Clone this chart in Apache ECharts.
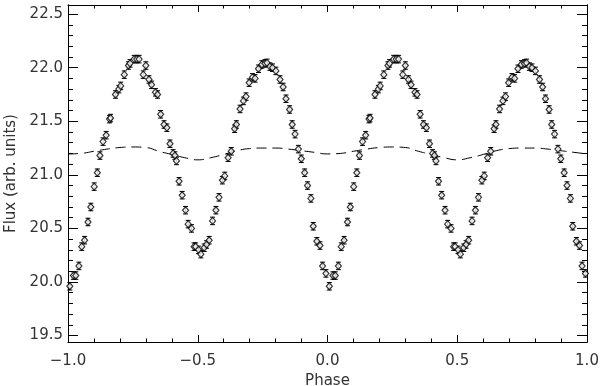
<!DOCTYPE html>
<html>
<head>
<meta charset="utf-8">
<script src="https://cdn.jsdelivr.net/npm/echarts@6/dist/echarts.min.js"></script>
<style>
  html, body { margin: 0; padding: 0; background: #fff; }
  #chart { width: 600px; height: 386px; }
</style>
</head>
<body>
<div id="chart"></div>
<script>
// measured light curve, phase 0..1 (plotted again at phase - 1)
const phase = [
  0.007, 0.021, 0.030, 0.042, 0.053, 0.064, 0.077, 0.088, 0.101, 0.113,
  0.123, 0.135, 0.147, 0.160, 0.164, 0.183, 0.196, 0.203, 0.217, 0.233,
  0.239, 0.255, 0.265, 0.274, 0.290, 0.300, 0.312, 0.322, 0.337, 0.345,
  0.357, 0.370, 0.381, 0.393, 0.405, 0.412, 0.418, 0.428, 0.440, 0.453,
  0.463, 0.476, 0.486, 0.492, 0.503, 0.512, 0.525, 0.534, 0.544, 0.557,
  0.570, 0.582, 0.595, 0.604, 0.617, 0.629, 0.642, 0.649, 0.663, 0.676,
  0.686, 0.698, 0.711, 0.721, 0.734, 0.747, 0.759, 0.767, 0.778, 0.788,
  0.801, 0.817, 0.829, 0.840, 0.854, 0.864, 0.875, 0.888, 0.899, 0.912,
  0.923, 0.936, 0.945, 0.959, 0.971, 0.981, 0.994
];
const flux = [
  19.96, 20.06, 20.06, 20.15, 20.33, 20.39, 20.56, 20.70, 20.89, 21.02,
  21.18, 21.31, 21.37, 21.52, 21.53, 21.75, 21.80, 21.83, 21.935, 22.02,
  22.04, 22.08, 22.08, 22.08, 21.935, 22.02, 21.89, 21.84, 21.77, 21.75,
  21.565, 21.47, 21.44, 21.29, 21.20, 21.18, 21.13, 20.94, 20.81, 20.67,
  20.54, 20.50, 20.33, 20.33, 20.30, 20.26, 20.32, 20.35, 20.39, 20.57,
  20.67, 20.79, 20.95, 20.99, 21.16, 21.22, 21.43, 21.47, 21.615, 21.69,
  21.73, 21.86, 21.91, 21.90, 21.99, 22.03, 22.04, 22.045, 22.01, 22.00,
  21.97, 21.89, 21.82, 21.71, 21.61, 21.47, 21.38, 21.24, 21.15, 21.02,
  20.90, 20.78, 20.52, 20.38, 20.34, 20.15, 20.08
];
const fluxErr = 0.035;

// dashed model curve, phase 0..1
const modelPhase = [0, 0.05, 0.1, 0.15, 0.2, 0.25, 0.3, 0.35, 0.4, 0.45, 0.5,
  0.55, 0.6, 0.65, 0.7, 0.75, 0.8, 0.85, 0.9, 0.95, 1.0];
const modelFlux = [21.195, 21.20, 21.22, 21.24, 21.255, 21.26, 21.255, 21.22, 21.19, 21.16, 21.14,
  21.16, 21.19, 21.225, 21.245, 21.25, 21.25, 21.24, 21.225, 21.21, 21.195];

const yMajorTicks = [19.5, 20.0, 20.5, 21.0, 21.5, 22.0, 22.5];
const yMinorTicks = [];
for (let i = 0; i <= 30; i++) yMinorTicks.push(+(19.5 + i * 0.1).toFixed(1));
const yMin = 19.44, yMax = 22.585;

const points = [];
phase.forEach((p, i) => {
  points.push([p - 1, flux[i]]);
  points.push([p, flux[i]]);
});
points.sort((a, b) => a[0] - b[0]);

const model = [];
modelPhase.forEach((p, i) => { if (p < 1) model.push([p - 1, modelFlux[i]]); });
modelPhase.forEach((p, i) => model.push([p, modelFlux[i]]));

const font = { fontFamily: "DejaVu Sans", fontSize: 15, color: "#333" };
const fmt = (v) => v.toFixed(1).replace("-", "\u2212");

function xAx(pos, labels) {
  return {
    type: "value", position: pos, min: -1, max: 1, interval: 0.5,
    name: labels ? "Phase" : "", nameLocation: "middle", nameGap: 32,
    nameTextStyle: font,
    axisLine: { show: true, onZero: false, lineStyle: { color: "#000", width: 1 } },
    axisTick: { show: true, inside: true, length: 7, lineStyle: { color: "#000" } },
    minorTick: { show: true, splitNumber: 5, length: 3.5, lineStyle: { color: "#000" } },
    axisLabel: { show: labels, formatter: fmt, margin: 12, ...font },
    splitLine: { show: false },
  };
}
function yAx(pos, major, labels) {
  return {
    type: "value", position: pos, min: yMin, max: yMax,
    name: labels ? "Flux (arb. units)" : "", nameLocation: "middle", nameGap: 47,
    nameTextStyle: font,
    axisLine: { show: true, onZero: false, lineStyle: { color: "#000", width: 1 } },
    axisTick: { show: true, inside: true, length: major ? 10 : 5,
      customValues: major ? yMajorTicks : yMinorTicks, lineStyle: { color: "#000" } },
    axisLabel: { show: labels, customValues: yMajorTicks, formatter: (v) => v.toFixed(1),
      margin: 5, ...font },
    splitLine: { show: false },
  };
}

const chart = echarts.init(document.getElementById("chart"), null, { renderer: "canvas" });
chart.setOption({
  animation: false,
  backgroundColor: "#fff",
  grid: { left: 68, right: 13, top: 5, bottom: 44, containLabel: false, outerBoundsMode: "none" },
  xAxis: [xAx("bottom", true), xAx("top", false)],
  yAxis: [yAx("left", true, true), yAx("left", false, false),
          yAx("right", true, false), yAx("right", false, false)],
  series: [
    {
      type: "line", data: model, smooth: true, showSymbol: false, symbol: "none",
      lineStyle: { color: "#000", width: 1, type: [10, 6] }, z: 1,
    },
    {
      type: "custom", data: points, z: 2,
      renderItem: (params, api) => {
        const x = api.value(0), y = api.value(1);
        const top = api.coord([x, y + fluxErr]);
        const bot = api.coord([x, y - fluxErr]);
        const st = { stroke: "#000", lineWidth: 1 };
        return {
          type: "group",
          children: [
            { type: "line", shape: { x1: top[0], y1: top[1], x2: bot[0], y2: bot[1] }, style: st },
            { type: "line", shape: { x1: top[0] - 2.5, y1: top[1], x2: top[0] + 2.5, y2: top[1] }, style: st },
            { type: "line", shape: { x1: bot[0] - 2.5, y1: bot[1], x2: bot[0] + 2.5, y2: bot[1] }, style: st },
          ],
        };
      },
    },
    {
      type: "scatter", data: points, symbol: "diamond", symbolSize: [6, 7], z: 3,
      itemStyle: { color: "#fff", borderColor: "#000", borderWidth: 1.2 },
    },
  ],
});
</script>
</body>
</html>
